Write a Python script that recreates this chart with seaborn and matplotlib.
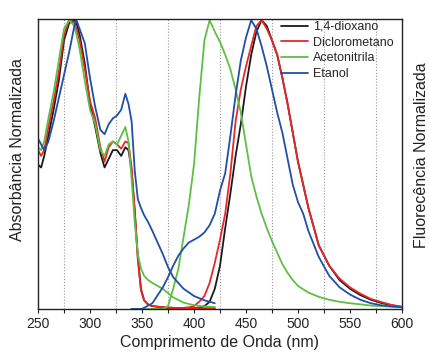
import matplotlib
matplotlib.use('Agg')
import numpy as np
import pandas as pd
import seaborn as sns
import matplotlib.pyplot as plt
from matplotlib.ticker import MultipleLocator

# Absorbance (normalised), shared wavelength grid
abs_nm = [250, 253, 256, 260, 265, 270, 275, 280, 285, 287, 290, 295, 300, 305,
          310, 314, 318, 322, 326, 330, 334, 337, 340, 343, 346, 349, 352, 356,
          360, 365, 370, 375, 380, 390, 400, 410, 420]
abs_dioxano = [0.50, 0.49, 0.53, 0.60, 0.69, 0.79, 0.93, 0.99, 1.00, 0.99, 0.95,
               0.85, 0.71, 0.63, 0.54, 0.49, 0.52, 0.55, 0.55, 0.53, 0.56, 0.55,
               0.48, 0.34, 0.18, 0.07, 0.03, 0.015, 0.01, 0.008, 0.006, 0.005,
               0.004, 0.003, 0.003, 0.002, 0.002]
abs_dcm = [0.55, 0.53, 0.55, 0.63, 0.72, 0.82, 0.95, 1.00, 0.99, 0.97, 0.93,
           0.83, 0.72, 0.66, 0.56, 0.51, 0.56, 0.58, 0.57, 0.555, 0.58, 0.575,
           0.49, 0.34, 0.17, 0.065, 0.03, 0.015, 0.01, 0.008, 0.006, 0.005,
           0.004, 0.003, 0.003, 0.002, 0.002]
abs_acn = [0.56, 0.55, 0.58, 0.66, 0.75, 0.86, 0.97, 1.00, 0.98, 0.95, 0.90,
           0.79, 0.69, 0.64, 0.55, 0.53, 0.57, 0.58, 0.57, 0.60, 0.63, 0.58,
           0.45, 0.30, 0.19, 0.14, 0.115, 0.10, 0.09, 0.08, 0.07, 0.055,
           0.04, 0.022, 0.013, 0.009, 0.007]
abs_etanol = [0.59, 0.57, 0.55, 0.58, 0.65, 0.73, 0.81, 0.89, 0.98, 1.00, 0.97,
              0.92, 0.80, 0.70, 0.62, 0.605, 0.64, 0.66, 0.67, 0.69, 0.745, 0.71,
              0.65, 0.48, 0.38, 0.35, 0.325, 0.30, 0.27, 0.23, 0.19, 0.145,
              0.11, 0.07, 0.045, 0.03, 0.02]

# Fluorescence (normalised), shared wavelength grid
fl_nm = [340, 350, 360, 370, 375, 380, 385, 390, 395, 400, 405, 410, 415, 420,
         425, 430, 435, 440, 445, 450, 455, 460, 465, 470, 475, 480, 485, 490,
         495, 500, 505, 510, 520, 530, 540, 550, 560, 570, 580, 590, 600]
fl_dioxano = [0.0, 0.0, 0.0, 0.0, 0.0, 0.0, 0.0, 0.0, 0.0, 0.002, 0.005, 0.01,
              0.025, 0.07, 0.15, 0.28, 0.40, 0.53, 0.64, 0.77, 0.88, 0.96, 1.00,
              0.98, 0.93, 0.88, 0.80, 0.71, 0.61, 0.51, 0.43, 0.35, 0.22, 0.15,
              0.10, 0.07, 0.048, 0.032, 0.021, 0.013, 0.007]
fl_dcm = [0.0, 0.0, 0.0, 0.0, 0.0, 0.0, 0.002, 0.004, 0.006, 0.01, 0.025, 0.045,
          0.09, 0.16, 0.24, 0.33, 0.47, 0.65, 0.76, 0.84, 0.91, 0.98, 1.00,
          0.97, 0.93, 0.88, 0.80, 0.71, 0.61, 0.51, 0.43, 0.35, 0.22, 0.15,
          0.105, 0.075, 0.053, 0.035, 0.024, 0.014, 0.008]
fl_acn = [0.0, 0.0, 0.0, 0.0, 0.01, 0.07, 0.14, 0.25, 0.36, 0.50, 0.73, 0.93,
          1.00, 0.96, 0.925, 0.88, 0.83, 0.76, 0.68, 0.57, 0.46, 0.39, 0.33,
          0.28, 0.235, 0.195, 0.155, 0.125, 0.10, 0.08, 0.068, 0.057, 0.042,
          0.032, 0.025, 0.02, 0.016, 0.012, 0.01, 0.008, 0.006]
fl_etanol = [0.0, 0.0, 0.02, 0.075, 0.11, 0.15, 0.185, 0.21, 0.23, 0.24, 0.25,
             0.265, 0.29, 0.33, 0.41, 0.47, 0.60, 0.74, 0.86, 0.94, 1.00, 0.97,
             0.91, 0.84, 0.76, 0.68, 0.61, 0.52, 0.43, 0.37, 0.33, 0.27, 0.18,
             0.115, 0.075, 0.05, 0.032, 0.02, 0.013, 0.009, 0.006]

solvents = ['1,4-dioxano', 'Diclorometano', 'Acetonitrila', 'Etanol']
colors = ['#1a1a1a', '#e8262b', '#5fbf45', '#1f4fa6']

abs_series = [abs_dioxano, abs_dcm, abs_acn, abs_etanol]
fl_series = [fl_dioxano, fl_dcm, fl_acn, fl_etanol]

rows = []
for name, a, f in zip(solvents, abs_series, fl_series):
    rows.append(pd.DataFrame({'nm': abs_nm, 'val': a, 'solvente': name, 'tipo': 'abs'}))
    rows.append(pd.DataFrame({'nm': fl_nm, 'val': f, 'solvente': name, 'tipo': 'fl'}))
df = pd.concat(rows, ignore_index=True)

sns.set_style('ticks')
plt.rcParams['font.family'] = ['Liberation Sans', 'DejaVu Sans']

fig = plt.figure(figsize=(4.29, 3.52), dpi=100)
ax = fig.add_axes([38 / 429, 43 / 352, 364 / 429, 290 / 352])

sns.lineplot(data=df, x='nm', y='val', hue='solvente', units='tipo',
             estimator=None, sort=False, palette=dict(zip(solvents, colors)),
             hue_order=solvents, linewidth=1.3, ax=ax)

ax.set_xlim(250, 600)
ax.set_ylim(0, 1.004)
ax.xaxis.set_major_locator(MultipleLocator(50))
ax.set_xticks(np.arange(275, 600, 50), minor=True)
ax.grid(which='minor', axis='x', linestyle=':', color='#999999', linewidth=0.8)
ax.grid(which='major', visible=False)
ax.set_yticks([])
ax.tick_params(axis='x', which='both', direction='out', length=3, width=0.8,
               labelsize=10, pad=3, colors='#222222')
ax.set_xlabel('')
ax.set_ylabel('')
for s in ax.spines.values():
    s.set_visible(True)
    s.set_color('#222222')
    s.set_linewidth(1.0)

fig.text(220 / 429, 1 - 343 / 352, 'Comprimento de Onda (nm)', ha='center',
         va='center', fontsize=11.5, color='#222222')
fig.text(18 / 429, 1 - 150 / 352, 'Absorbância Normalizada', ha='center',
         va='center', rotation=90, fontsize=11.5, color='#222222')
fig.text(421 / 429, 1 - 155 / 352, 'Fluorecência Normalizada', ha='center',
         va='center', rotation=90, fontsize=11.5, color='#222222')

leg = ax.legend(loc='upper right', bbox_to_anchor=(0.995, 1.015), frameon=False,
                fontsize=9, handlelength=2.1, handletextpad=0.45,
                labelspacing=0.3, borderaxespad=0.1)
for line in leg.get_lines():
    line.set_linewidth(1.3)

fig.savefig('out.png', dpi=100)
